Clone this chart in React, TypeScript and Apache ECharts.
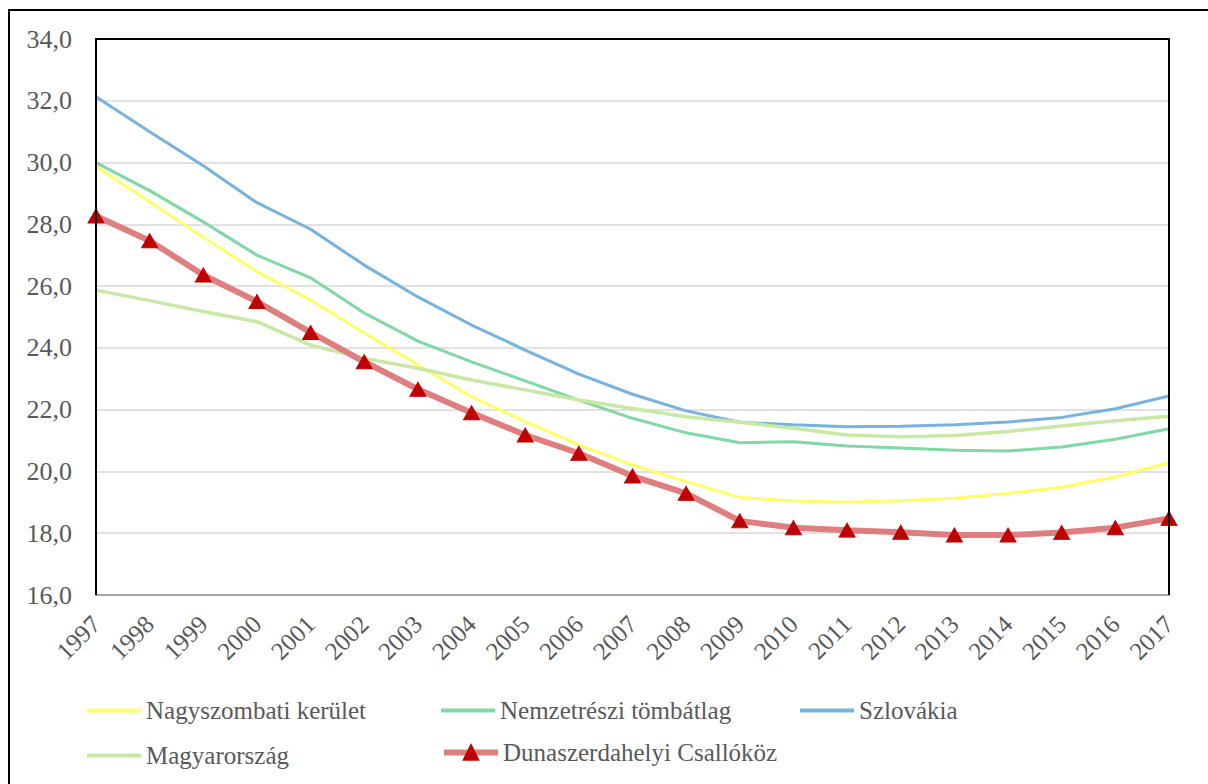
import React, { useEffect, useRef } from "react";
import * as echarts from "echarts";

const years = ["1997","1998","1999","2000","2001","2002","2003","2004","2005","2006","2007","2008","2009","2010","2011","2012","2013","2014","2015","2016","2017"];
const yTicks = [16, 34, 2];
const nagyszombati = [29.87, 28.73, 27.58, 26.47, 25.55, 24.48, 23.45, 22.42, 21.61, 20.86, 20.21, 19.67, 19.16, 19.04, 19.0, 19.05, 19.13, 19.29, 19.49, 19.83, 20.28];
const nemzetreszi = [30.0, 29.09, 28.08, 27.0, 26.27, 25.13, 24.22, 23.55, 22.93, 22.31, 21.72, 21.25, 20.93, 20.96, 20.82, 20.76, 20.69, 20.66, 20.79, 21.04, 21.38];
const szlovakia = [32.13, 31.0, 29.9, 28.7, 27.84, 26.68, 25.65, 24.74, 23.93, 23.15, 22.5, 21.96, 21.59, 21.51, 21.45, 21.46, 21.51, 21.6, 21.75, 22.03, 22.44];
const magyarorszag = [25.87, 25.53, 25.18, 24.85, 24.09, 23.66, 23.34, 22.96, 22.64, 22.31, 22.04, 21.77, 21.59, 21.4, 21.18, 21.12, 21.16, 21.29, 21.47, 21.64, 21.79];
const dunaszerdahelyi = [28.27, 27.47, 26.36, 25.5, 24.5, 23.55, 22.66, 21.9, 21.18, 20.59, 19.85, 19.29, 18.4, 18.18, 18.1, 18.03, 17.94, 17.94, 18.02, 18.18, 18.48];

const names = ["Nagyszombati kerület", "Nemzetrészi tömbátlag", "Szlovákia", "Magyarország", "Dunaszerdahelyi Csallóköz"];
const colors = ["#ffff66", "#7fd8a6", "#76b3de", "#c8e8a4", "#de7e7e"];

const FONT = "Liberation Serif";
const TXT = "#595959";

export default function App() {
  const ref = useRef<HTMLDivElement>(null);
  useEffect(() => {
    document.body.style.margin = "0";
    document.body.style.overflow = "hidden";
    if (!ref.current) return;
    const chart = echarts.init(ref.current, null, { renderer: "svg" });
    const W = 1208, H = 784;
    const gl = 96, gt = 39, gr = 39, gb = 189;
    const legendBase = {
      orient: "horizontal",
      itemWidth: 54,
      padding: 0,
      icon: "rect",
      itemHeight: 4,
      textStyle: { fontSize: 25, color: TXT, fontFamily: FONT },
      selectedMode: false,
    };
    const lineSeries = (name: string, data: number[], color: string, width: number, z: number) => ({
      name,
      type: "line",
      data,
      symbol: "none",
      showSymbol: false,
      lineStyle: { color, width },
      itemStyle: { color },
      z,
    });
    chart.setOption({
      animation: false,
      backgroundColor: "#fff",
      textStyle: { fontFamily: FONT, color: TXT, fontSize: 25 },
      grid: { left: gl, top: gt, right: gr, bottom: gb, containLabel: false },
      xAxis: {
        type: "category",
        data: years,
        boundaryGap: false,
        axisLine: { show: true, lineStyle: { color: "#a6a6a6", width: 2 } },
        axisTick: { show: false },
        axisLabel: { interval: 0, rotate: 45, margin: 25, fontSize: 25, color: TXT, fontFamily: FONT },
        splitLine: { show: false },
      },
      yAxis: {
        type: "value",
        min: yTicks[0],
        max: yTicks[1],
        interval: yTicks[2],
        axisLine: { show: false },
        axisTick: { show: false },
        axisLabel: {
          margin: 24,
          fontSize: 26,
          color: TXT,
          fontFamily: FONT,
          formatter: (v: number) => v.toFixed(1).replace(".", ","),
        },
        splitLine: { show: true, lineStyle: { color: "#d9d9d9", width: 1.5 } },
      },
      legend: [
        { ...legendBase, data: [names[0]], left: 87, top: 698 },
        { ...legendBase, data: [names[1]], left: 441, top: 698 },
        { ...legendBase, data: [names[2]], left: 800, top: 698 },
        { ...legendBase, data: [names[3]], left: 87, top: 743 },
        {
          ...legendBase,
          icon: undefined,
          itemHeight: 18,
          data: [{ name: names[4], lineStyle: { width: 6, color: colors[4] }, itemStyle: { color: "#c00000" } }],
          left: 441,
          top: 740,
        },
      ],
      graphic: [
        {
          type: "rect",
          shape: { x: 9, y: 10, width: W + 40, height: H + 40 },
          style: { fill: "none", stroke: "#000", lineWidth: 2 },
          silent: true,
          z: 100,
        },
        {
          type: "polyline",
          shape: { points: [[gl, H - gb], [gl, gt], [W - gr, gt], [W - gr, H - gb]] },
          style: { fill: "none", stroke: "#000", lineWidth: 2 },
          silent: true,
          z: 100,
        },
      ],
      series: [
        lineSeries(names[0], nagyszombati, colors[0], 3, 2),
        lineSeries(names[1], nemzetreszi, colors[1], 3, 3),
        lineSeries(names[2], szlovakia, colors[2], 3, 4),
        lineSeries(names[3], magyarorszag, colors[3], 3.5, 5),
        {
          name: names[4],
          type: "line",
          data: dunaszerdahelyi,
          symbol: "triangle",
          symbolSize: [16, 14],
          showSymbol: true,
          lineStyle: { color: colors[4], width: 6 },
          itemStyle: { color: "#c00000", borderColor: "#c00000", borderWidth: 1 },
          z: 6,
        },
      ],
    });
    return () => chart.dispose();
  }, []);
  return <div ref={ref} style={{ width: 1208, height: 784 }} />;
}
